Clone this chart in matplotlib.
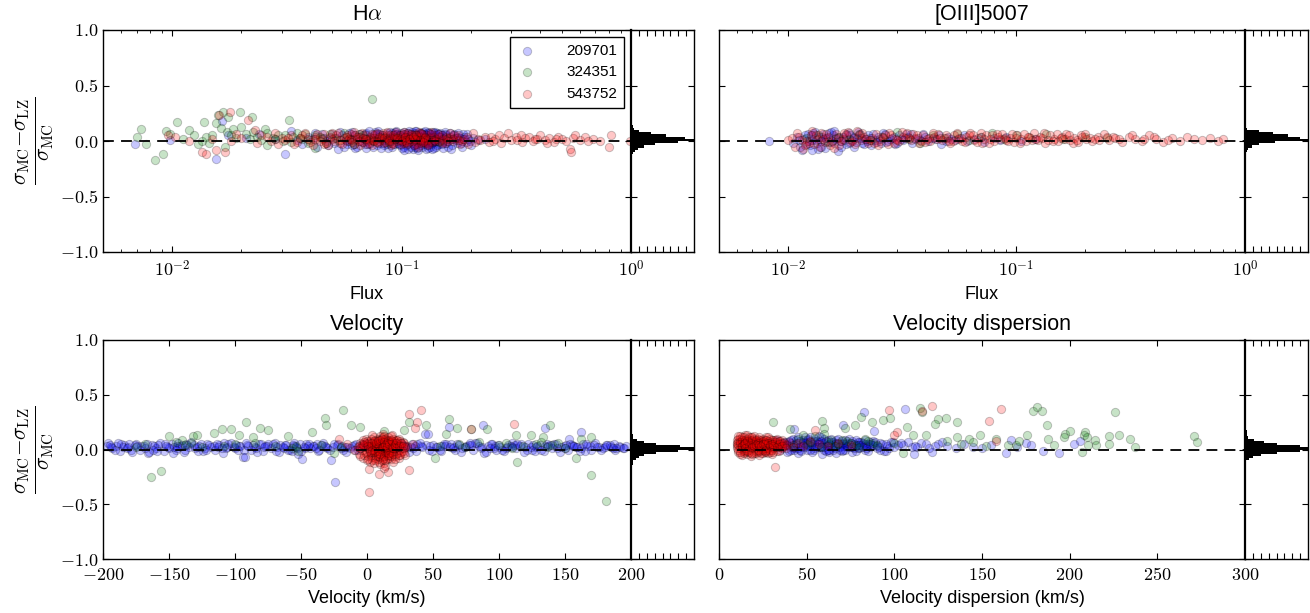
import numpy as np
import matplotlib
matplotlib.use('Agg')
import matplotlib.pyplot as plt
from matplotlib.ticker import FixedLocator, FuncFormatter, LogLocator, NullFormatter

plt.rcParams['font.family'] = ['Liberation Sans', 'DejaVu Sans']
plt.rcParams['mathtext.fontset'] = 'cm'
plt.rcParams['xtick.major.size'] = 4
plt.rcParams['ytick.major.size'] = 4
plt.rcParams['xtick.minor.size'] = 2
plt.rcParams['ytick.minor.size'] = 2
plt.rcParams['axes.linewidth'] = 1.0

# ---------------- data ----------------
series_labels = ['209701', '324351', '543752']

# H-alpha: (flux, relative difference)
ha_209701 = [(0.0069,-0.03),(0.0098,0.01),(0.0155,-0.16),(0.0165,0.18),(0.0175,0.05),(0.021,0.03),(0.024,0.06),(0.028,0.02),
    (0.031,-0.12),(0.033,0.09),(0.035,0.01),(0.037,-0.03),(0.039,0.04),(0.041,0.02),(0.043,-0.05),(0.045,0.06),(0.047,0.00),
    (0.049,0.03),(0.051,-0.02),(0.053,-0.07),(0.055,0.05),(0.057,0.01),(0.059,0.07),(0.061,-0.04),(0.063,0.02),(0.065,0.04),
    (0.067,-0.01),(0.069,0.06),(0.071,0.00),(0.073,0.03),(0.075,-0.05),(0.077,0.08),(0.079,0.02),(0.081,-0.02),(0.083,0.05),
    (0.085,0.01),(0.087,-0.06),(0.089,0.04),(0.091,0.07),(0.093,-0.03),(0.095,0.02),(0.097,0.05),(0.099,-0.01),(0.101,0.03),
    (0.103,0.08),(0.105,-0.04),(0.107,0.01),(0.109,0.06),(0.111,-0.02),(0.113,0.03),(0.115,0.07),(0.117,-0.06),(0.119,0.00),
    (0.121,0.04),(0.123,0.02),(0.125,-0.03),(0.127,0.06),(0.129,0.01),(0.131,0.08),(0.133,-0.05),(0.135,0.03),(0.137,0.05),
    (0.139,-0.01),(0.141,0.02),(0.143,0.07),(0.145,-0.03),(0.148,0.04),(0.151,0.00),(0.154,0.06),(0.157,-0.02),(0.160,0.03),
    (0.164,-0.07),(0.168,0.05),(0.172,0.01),(0.176,0.04),(0.181,-0.02),(0.186,0.02),(0.192,0.06),(0.198,0.00),(0.205,0.03),
    (0.215,0.01),(0.230,0.02),(0.090,0.00),(0.094,0.05),(0.098,-0.04),(0.102,0.02),(0.106,0.07),(0.110,0.03),(0.114,-0.03),
    (0.118,0.05),(0.122,-0.01),(0.126,0.03),(0.130,-0.02),(0.134,0.01),(0.138,0.07),(0.142,-0.05),(0.146,0.02),(0.150,0.05),
    (0.116,0.09),(0.124,0.08),(0.112,-0.07),(0.128,-0.07),(0.108,0.04),(0.120,0.02),(0.132,0.04),(0.136,-0.02),(0.096,0.06),
    (0.100,-0.06),(0.104,0.00),(0.080,0.06),(0.072,-0.03),(0.068,0.03),
    (0.052,0.03),(0.058,-0.03),(0.062,0.05),(0.066,0.00),(0.070,0.07),(0.074,0.01),(0.078,-0.04),(0.082,0.04),(0.086,0.07),
    (0.088,-0.01),(0.092,0.02),(0.096,-0.02),(0.099,0.07),(0.103,-0.05),(0.105,0.04),(0.109,0.00),(0.111,0.08),(0.113,-0.04),
    (0.115,0.02),(0.117,0.05),(0.119,-0.02),(0.121,0.07),(0.123,-0.05),(0.125,0.05),(0.127,0.00),(0.129,-0.04),(0.131,0.03),
    (0.133,0.06),(0.135,-0.01),(0.137,0.08),(0.139,-0.06),(0.141,0.05),(0.144,0.00),(0.147,0.07),(0.150,-0.03),(0.153,0.03),
    (0.156,0.05),(0.160,-0.05),(0.165,0.02),(0.170,0.06),(0.175,-0.02),(0.180,0.03),(0.185,0.06),(0.190,-0.01),(0.060,0.02),
    (0.064,-0.05),(0.076,0.05),(0.084,-0.04),(0.094,0.08),(0.101,0.00),(0.107,-0.07),(0.118,0.01),(0.122,0.06),(0.126,-0.01),
    (0.130,0.07),(0.134,-0.03),(0.138,0.03),(0.142,0.00),(0.046,0.03),(0.050,0.06),
    (0.061,0.08),(0.063,-0.06),(0.066,0.06),(0.069,-0.03),(0.072,0.09),(0.075,0.03),(0.078,0.06),(0.081,-0.06),(0.083,0.01),
    (0.086,-0.03),(0.089,0.08),(0.091,-0.05),(0.093,0.04),(0.095,0.09),(0.097,-0.03),(0.100,0.05),(0.102,-0.08),(0.104,0.06),
    (0.106,-0.02),(0.108,0.09),(0.110,-0.05),(0.112,0.05),(0.114,0.09),(0.116,0.00),(0.118,-0.08),(0.120,0.07),(0.122,-0.04),
    (0.124,0.00),(0.126,0.09),(0.128,0.02),(0.130,-0.06),(0.132,0.07),(0.134,0.04),(0.136,-0.07),(0.138,0.00),(0.140,0.08),
    (0.143,-0.04),(0.146,0.06),(0.149,0.01),(0.152,-0.06),(0.155,0.08),(0.158,0.00),(0.162,0.07),(0.166,-0.04),(0.171,0.03),
    (0.177,0.07),(0.183,-0.05),(0.188,0.04),(0.195,0.02),(0.200,-0.04),(0.042,0.07),(0.048,-0.04),(0.054,0.08),(0.056,-0.05),
    (0.059,0.00),(0.070,-0.06),(0.079,0.09),(0.087,0.03),(0.098,0.01),(0.115,-0.05)]
ha_324351 = [(0.0070,0.04),(0.0073,0.11),(0.0077,-0.03),(0.0084,-0.17),(0.0091,-0.12),(0.0094,0.09),(0.0098,0.06),(0.0105,0.17),
    (0.0112,0.02),(0.0118,0.10),(0.0124,0.05),(0.0130,-0.03),(0.0135,0.00),(0.0138,0.17),(0.0141,0.04),(0.0145,-0.02),(0.0150,0.05),
    (0.0155,0.16),(0.0159,0.23),(0.0163,0.12),(0.0167,0.26),(0.0170,-0.05),(0.0174,0.08),(0.0176,0.22),(0.0180,0.05),(0.0185,0.11),
    (0.0190,0.03),(0.0197,0.26),(0.0200,0.13),(0.0210,0.06),(0.0218,0.02),(0.0224,0.22),(0.0226,0.08),(0.0235,0.04),(0.0245,0.01),
    (0.0253,0.11),(0.0260,0.07),(0.0275,0.03),(0.0290,0.05),(0.0305,0.00),(0.0324,0.19),(0.0335,0.04),(0.0350,0.07),(0.0370,0.02),
    (0.0390,-0.02),(0.0420,0.05),(0.0450,0.03),(0.0490,0.06),(0.0530,0.01),(0.0580,0.04),(0.0620,-0.03),(0.0680,0.05),(0.0720,0.02),
    (0.0740,0.38),(0.0800,0.03),(0.0880,-0.02),(0.0950,0.04),(0.1050,0.01),(0.1150,0.05),(0.1300,0.02),(0.1450,-0.01),(0.1600,0.03),
    (0.0420,-0.06),(0.0560,0.07),(0.0260,-0.04),(0.028,0.02),(0.031,0.05),(0.033,-0.01),(0.036,0.03),(0.038,0.06),(0.040,0.01),
    (0.044,0.04),(0.047,-0.02),(0.051,0.03),(0.060,0.02),(0.065,0.06),(0.075,0.00),(0.085,0.04)]
ha_543752 = [(0.0096,0.05),(0.0103,0.04),(0.0118,0.00),(0.0135,-0.10),(0.0140,-0.12),(0.0150,0.02),(0.0155,-0.08),(0.0160,0.23),
    (0.0170,-0.10),(0.0178,0.26),(0.0180,0.00),(0.0190,0.06),(0.0200,0.03),(0.0215,0.19),(0.0229,0.10),(0.0235,-0.02),(0.0245,0.05),
    (0.0260,0.04),(0.0270,0.00),(0.0280,0.07),(0.0290,-0.03),(0.0300,0.03),(0.031,0.01),(0.033,0.05),(0.034,-0.03),(0.036,0.03),
    (0.038,0.07),(0.040,-0.01),(0.042,0.04),(0.044,0.00),(0.046,0.06),(0.048,-0.04),(0.050,0.02),(0.052,0.05),(0.054,-0.02),
    (0.056,0.03),(0.058,0.00),(0.060,0.06),(0.062,-0.03),(0.064,0.02),(0.066,0.04),(0.068,-0.01),(0.070,0.05),(0.072,0.01),
    (0.074,-0.04),(0.076,0.03),(0.078,0.07),(0.080,0.00),(0.082,0.02),(0.084,-0.02),(0.086,0.05),(0.088,0.01),(0.090,0.03),
    (0.092,-0.03),(0.094,0.06),(0.096,0.00),(0.098,0.02),(0.100,0.04),(0.102,-0.02),(0.104,0.01),(0.106,0.05),(0.108,-0.01),
    (0.110,0.03),(0.112,0.00),(0.114,0.06),(0.116,-0.03),(0.118,0.02),(0.120,0.04),(0.122,0.00),(0.124,0.03),(0.126,-0.02),
    (0.128,0.05),(0.130,0.01),(0.133,0.03),(0.136,-0.01),(0.139,0.04),(0.142,0.02),(0.146,0.00),(0.150,0.05),(0.154,-0.02),
    (0.158,0.02),(0.163,0.04),(0.168,0.00),(0.174,0.03),(0.180,-0.03),(0.187,0.02),(0.195,-0.03),(0.205,0.07),(0.215,0.02),
    (0.220,0.01),(0.230,0.04),(0.240,-0.01),(0.245,0.04),(0.255,0.02),(0.265,0.05),(0.270,-0.02),(0.280,0.03),(0.290,0.07),
    (0.300,0.01),(0.315,0.04),(0.320,0.01),(0.335,-0.01),(0.345,0.03),(0.360,0.04),(0.375,0.00),(0.390,0.02),(0.400,0.05),
    (0.420,0.01),(0.440,0.03),(0.460,-0.01),(0.480,0.04),(0.500,0.02),(0.540,-0.07),(0.550,-0.10),(0.560,0.03),(0.600,0.01),
    (0.630,0.04),(0.680,0.02),(0.730,0.00),(0.800,-0.05),(0.820,0.05),(0.990,0.00),(0.210,-0.01),(0.250,0.00),(0.330,0.05),
    (0.380,0.02),(0.430,-0.02),(0.470,0.02),(0.520,0.00),(0.570,0.05),(0.650,0.00),
    (0.032,0.03),(0.035,-0.01),(0.037,0.05),(0.039,0.02),(0.041,-0.04),(0.043,0.06),(0.045,0.02),(0.047,-0.02),(0.049,0.04),
    (0.051,0.00),(0.053,0.07),(0.055,-0.03),(0.057,0.04),(0.059,0.02),(0.061,-0.01),(0.063,0.05),(0.065,0.00),(0.067,0.07),
    (0.069,0.02),(0.071,-0.03),(0.073,0.04),(0.075,0.01),(0.077,0.06),(0.079,-0.02),(0.081,0.03),(0.083,0.07),(0.085,-0.01),
    (0.087,0.02),(0.089,0.05),(0.091,-0.02),(0.093,0.03),(0.095,0.08),(0.097,0.01),(0.099,-0.03),(0.101,0.06),(0.103,0.03),
    (0.105,-0.01),(0.107,0.07),(0.109,0.02),(0.111,0.05),(0.113,-0.04),(0.115,0.01),(0.117,0.04),(0.119,0.08),(0.121,-0.02),
    (0.123,0.06),(0.125,0.01),(0.127,0.03),(0.131,-0.03),(0.135,0.06),(0.140,0.00),(0.145,0.04),(0.152,0.02),(0.160,0.00),
    (0.170,0.05),(0.178,0.01),
    (0.042,0.02),(0.046,-0.03),(0.050,0.07),(0.054,0.01),(0.058,0.05),(0.062,0.08),(0.066,-0.04),(0.070,0.02),(0.074,0.06),
    (0.078,-0.01),(0.082,0.05),(0.086,0.08),(0.090,-0.04),(0.094,0.02),(0.098,0.05),(0.102,0.08),(0.106,-0.03),(0.110,0.06),
    (0.114,0.02),(0.118,-0.05),(0.122,0.07),(0.126,0.04),(0.130,-0.04),(0.134,0.08),(0.138,0.01),(0.144,0.06),(0.150,-0.02),
    (0.156,0.04),(0.162,0.07),(0.168,0.02),(0.176,0.05),(0.184,0.00),(0.192,0.04),(0.060,0.01),(0.064,0.04),(0.068,0.03),
    (0.072,-0.02),(0.076,0.00),(0.080,0.04),(0.084,0.03),(0.088,0.00),(0.092,0.05),(0.096,0.03),(0.100,0.00),(0.104,0.04),
    (0.108,0.02),(0.112,0.04),(0.116,0.05),(0.120,0.01),(0.124,-0.01)]

# [OIII]5007: (flux, relative difference)
o3_209701 = [(0.0083,0.00),(0.0105,-0.02),(0.0110,0.04),(0.0115,-0.08),(0.0118,0.02),(0.0122,0.06),(0.0125,-0.04),(0.0128,0.01),
    (0.0131,0.08),(0.0134,-0.02),(0.0137,0.04),(0.0140,0.00),(0.0143,0.06),(0.0146,-0.06),(0.0150,0.03),(0.0154,-0.01),(0.0158,0.05),
    (0.0162,0.02),(0.0166,-0.09),(0.0170,0.00),(0.0175,0.04),(0.0180,-0.03),(0.0185,0.07),(0.0190,0.01),(0.0195,-0.05),(0.0200,0.03),
    (0.0206,0.06),(0.0212,-0.02),(0.0218,0.02),(0.0225,0.05),(0.0232,-0.04),(0.0240,0.01),(0.0248,0.04),(0.0256,-0.02),(0.0265,0.06),
    (0.0275,0.00),(0.0285,0.03),(0.0295,-0.03),(0.0305,0.05),(0.0320,0.01),(0.0335,0.04),(0.0350,-0.02),(0.0370,0.03),(0.0390,0.06),
    (0.0410,0.00),(0.0440,0.02),(0.0470,-0.03),(0.0500,0.04),(0.0540,0.01),(0.0590,0.05),(0.0650,0.02),(0.0720,-0.01),(0.0800,0.03),
    (0.0900,0.04),(0.1050,0.00),(0.1200,0.02),
    (0.0112,0.01),(0.0120,-0.03),(0.0127,0.05),(0.0133,0.01),(0.0139,-0.05),(0.0145,0.03),(0.0152,0.07),(0.0160,-0.02),
    (0.0168,0.04),(0.0177,0.01),(0.0188,0.05),(0.0198,-0.01),(0.0210,0.03),(0.0222,0.00),(0.0236,0.06),(0.0252,0.02),
    (0.0270,-0.01),(0.0290,0.04),(0.0315,0.02),(0.0345,0.06),(0.0380,0.01),(0.0430,0.03),(0.0490,0.00),(0.0560,0.03),
    (0.0113,-0.05),(0.0119,0.05),(0.0124,0.00),(0.0129,0.07),(0.0136,-0.07),(0.0141,0.04),(0.0148,0.00),(0.0155,0.08),
    (0.0163,0.03),(0.0171,-0.05),(0.0179,0.06),(0.0186,-0.02),(0.0194,0.04),(0.0203,0.08),(0.0215,-0.03),(0.0228,0.03),
    (0.0244,-0.01),(0.0260,0.07),(0.0280,0.02),(0.0300,-0.02),(0.0330,0.06),(0.0360,0.02),(0.0400,0.04),(0.0460,0.05),
    (0.0520,0.02),(0.0610,0.00),(0.0700,0.04),(0.0850,0.01),(0.0128,-0.08),(0.0160,0.09)]
o3_324351 = [(0.0120,0.03),(0.0135,0.05),(0.0150,-0.01),(0.0165,0.04),(0.0185,0.02),(0.0205,0.06),(0.0230,0.01),(0.0260,0.04),
    (0.0300,0.08),(0.0340,0.02),(0.0380,-0.02),(0.0430,0.05),(0.0480,0.03),(0.0550,0.06),(0.0620,0.01),(0.0700,0.04),(0.0780,0.07),
    (0.0880,0.02),(0.1000,0.05),(0.1150,0.03),(0.1350,0.06),(0.1600,0.02),(0.2000,0.04),(0.2500,0.03)]
o3_543752 = [(0.0100,0.01),(0.0108,-0.05),(0.0112,0.04),(0.0117,-0.07),(0.0121,0.00),(0.0126,0.05),(0.0130,-0.03),(0.0135,0.02),
    (0.0140,0.07),(0.0145,-0.01),(0.0150,0.04),(0.0156,0.00),(0.0162,0.06),(0.0168,-0.04),(0.0174,0.02),(0.0180,0.05),(0.0187,-0.01),
    (0.0194,0.03),(0.0200,0.09),(0.0208,0.01),(0.0216,0.04),(0.0225,-0.02),(0.0234,0.03),(0.0243,0.06),(0.0252,0.00),(0.0262,0.03),
    (0.0273,-0.03),(0.0284,0.05),(0.0296,0.02),(0.0308,0.00),(0.0320,0.04),(0.0333,0.07),(0.0346,0.01),(0.0360,0.03),(0.0375,-0.02),
    (0.0390,0.05),(0.0405,0.02),(0.0420,0.00),(0.0437,0.04),(0.0455,0.06),(0.0473,0.01),(0.0492,0.03),(0.0512,-0.02),(0.0533,0.05),
    (0.0555,0.02),(0.0578,0.00),(0.0600,0.04),(0.0625,0.07),(0.0650,0.01),(0.0677,0.03),(0.0705,-0.02),(0.0734,0.05),(0.0764,0.02),
    (0.0795,0.00),(0.0828,0.04),(0.0862,0.06),(0.0897,0.01),(0.0934,0.03),(0.0972,-0.01),(0.101,0.05),(0.105,0.02),(0.110,0.00),
    (0.114,0.04),(0.119,0.07),(0.124,0.01),(0.129,0.03),(0.134,-0.02),(0.140,0.05),(0.146,0.02),(0.152,0.00),(0.158,0.04),
    (0.165,0.06),(0.172,0.01),(0.179,0.03),(0.186,-0.01),(0.194,0.04),(0.202,0.02),(0.215,0.00),(0.228,0.04),(0.242,0.06),
    (0.255,0.01),(0.270,0.03),(0.290,-0.01),(0.310,0.04),(0.330,0.02),(0.355,0.00),(0.380,0.05),(0.410,0.02),(0.440,-0.01),
    (0.480,0.03),(0.520,0.00),(0.560,0.04),(0.600,0.02),(0.650,0.01),(0.700,0.03),(0.760,0.00),(0.800,0.02),
    (0.0104,0.03),(0.0115,0.01),(0.0124,-0.02),(0.0133,0.05),(0.0142,0.02),(0.0153,-0.04),(0.0165,0.03),(0.0177,0.07),
    (0.0190,0.00),(0.0205,0.05),(0.0220,0.02),(0.0238,-0.02),(0.0257,0.04),(0.0278,0.07),(0.0300,0.01),(0.0325,0.03),
    (0.0352,0.06),(0.0382,0.00),(0.0415,0.03),(0.0450,0.02),(0.0490,0.05),(0.0530,0.00),(0.0575,0.03),(0.0620,0.05),
    (0.0670,-0.01),(0.0720,0.02),(0.0780,0.05),(0.0850,0.02),(0.0920,0.00),(0.1000,0.03),(0.1080,0.06),(0.1170,0.01),
    (0.1270,0.04),(0.1380,0.01),(0.1500,0.06),(0.1630,0.02),(0.1770,-0.02),(0.1920,0.05),(0.2100,0.03),(0.2300,0.01),
    (0.2500,0.04),(0.2800,0.02),(0.3200,0.05),(0.3600,0.02),(0.4000,0.04),(0.4600,0.01),
    (0.0110,0.07),(0.0119,-0.04),(0.0128,0.09),(0.0138,-0.05),(0.0147,0.06),(0.0159,-0.06),(0.0171,0.00),(0.0183,0.08),
    (0.0197,-0.03),(0.0212,0.07),(0.0229,0.01),(0.0247,-0.04),(0.0267,0.05),(0.0290,-0.02),(0.0315,0.08),(0.0340,0.03),
    (0.0368,0.05),(0.0398,-0.01),(0.0430,0.07),(0.0465,0.03),(0.0505,0.00),(0.0548,0.07),(0.0595,-0.01),(0.0645,0.05),
    (0.0700,0.07),(0.0760,-0.02),(0.0820,0.06),(0.0890,0.03),(0.0960,0.06),(0.1040,-0.02),(0.1120,0.04),(0.1220,0.02),
    (0.1320,0.07),(0.1440,0.00),(0.1560,0.03),(0.1700,0.05),(0.1850,0.01),(0.2000,0.06),(0.2200,0.02),(0.2650,0.04)]

# Velocity: (km/s, relative difference)
vel_209701 = [(-196,0.06),(-193,0.01),(-190,0.03),(-187,-0.01),(-184,0.04),(-181,0.02),(-178,-0.02),(-175,0.05),(-172,0.00),
    (-169,0.03),(-166,-0.03),(-163,0.04),(-160,0.01),(-157,0.06),(-154,-0.01),(-151,0.02),(-148,0.05),(-145,0.00),(-142,0.03),
    (-139,-0.02),(-136,0.04),(-133,0.07),(-130,0.01),(-127,0.03),(-124,-0.01),(-121,0.05),(-118,0.02),(-115,0.00),(-112,0.04),
    (-109,-0.03),(-106,0.02),(-103,0.06),(-100,0.01),(-97,0.03),(-94,-0.07),(-91,0.04),(-88,0.00),(-85,0.02),(-82,0.05),
    (-79,-0.01),(-76,0.03),(-73,0.01),(-70,0.06),(-67,-0.02),(-64,0.02),(-61,0.04),(-58,0.00),(-55,0.03),(-52,-0.04),
    (-49,-0.09),(-46,0.05),(-43,0.01),(-40,0.03),(-37,-0.01),(-34,0.04),(-31,0.02),(-28,0.00),(-24,-0.30),(-22,0.05),
    (-19,0.03),(-16,-0.02),(-13,0.01),(-10,0.04),(-7,0.00),(-4,0.02),(-1,0.06),(2,-0.01),(5,0.03),(8,0.05),(11,0.01),
    (14,-0.03),(17,0.04),(20,0.02),(23,0.00),(26,0.06),(29,0.03),(32,-0.02),(35,0.01),(38,0.05),(41,0.03),(44,0.14),
    (47,0.00),(50,0.04),(53,0.02),(56,-0.01),(62,0.21),(59,0.03),(65,0.01),(68,0.05),(71,-0.02),(74,0.02),(77,0.04),
    (80,0.00),(83,0.06),(88,0.22),(86,0.01),(89,-0.03),(92,0.03),(95,0.05),(98,0.00),(101,0.02),(104,-0.01),(107,0.04),
    (110,0.06),(113,0.01),(116,0.03),(119,-0.02),(122,0.05),(125,0.00),(128,0.02),(131,0.04),(134,-0.01),(135,0.20),
    (137,0.03),(140,0.01),(143,0.05),(153,0.10),(146,-0.02),(149,0.03),(152,0.00),(162,0.16),(155,0.04),(158,0.02),
    (161,-0.01),(164,0.05),(167,0.03),(170,0.00),(173,0.06),(176,0.02),(179,0.01),(182,0.04),(185,0.02),(188,0.00),
    (191,0.03),(194,0.01),
    (-194,0.02),(-186,0.05),(-179,0.00),(-171,0.03),(-165,-0.02),(-158,0.04),(-150,0.01),(-143,0.06),(-135,0.02),(-128,-0.01),
    (-120,0.04),(-113,0.02),(-105,0.05),(-98,0.00),(-90,0.03),(-83,-0.02),(-75,0.05),(-68,0.02),(-60,0.00),(-56,0.04),
    (-53,0.01),(-50,-0.01),(-45,0.03),(-38,0.05),(-30,0.01),(-23,0.04),(-15,0.02),(-8,0.05),(0,0.03),(7,0.01),(15,0.04),
    (22,0.06),(30,0.02),(37,-0.01),(45,0.04),(52,0.02),(60,0.05),(67,0.00),(75,0.03),(82,0.06),(90,-0.02),(97,0.03),
    (105,0.01),(112,0.04),(120,0.02),(127,-0.01),(135,0.03),(142,0.05),(150,0.01),(157,0.03),(165,-0.01),(172,0.04),
    (180,0.02),(187,0.05),(195,0.01),(-27.5,-0.10),(-92.5,-0.07),(-147,-0.03),(46,0.14),
    (-197,0.03),(-191,0.00),(-185,0.02),(-176,0.04),(-168,0.01),(-161,0.03),(-153,0.05),(-146,0.02),(-138,0.00),(-131,0.04),
    (-123,0.01),(-116,0.03),(-108,0.06),(-101,0.02),(-93,0.00),(-86,0.04),(-78,0.02),(-71,0.05),(-63,0.01),(-57,-0.01),
    (-54,0.02),(-51,0.05),(-47,0.01),(-41,0.03),(-33,0.06),(-26,0.02),(-18,0.00),(-11,0.03),(-3,0.05),(4,0.02),(12,0.00),
    (19,0.04),(27,0.01),(34,0.05),(42,0.02),(49,-0.01),(57,0.03),(64,0.05),(72,0.01),(79,0.04),(87,0.02),(94,0.05),
    (102,0.00),(109,0.03),(117,0.05),(124,0.02),(132,0.00),(139,0.04),(147,0.02),(154,0.05),(162,0.01),(169,0.03),
    (177,0.00),(184,0.04),(192,0.02),(-180,0.05),(-162,0.00),(-144,0.03),(-126,0.05),(-96,0.03),(-66,0.04),(-36,0.00),
    (6,0.04),(36,0.03),(66,0.02),(96,0.01),(126,0.04),(156,0.03),(186,0.01),
    (-195,0.04),(-189,0.06),(-182,0.01),(-174,0.03),(-167,0.05),(-159,-0.01),(-152,0.03),(-144,0.01),(-137,0.05),(-129,0.02),
    (-122,0.00),(-114,0.05),(-107,0.01),(-99,0.04),(-92,0.06),(-84,0.01),(-77,0.03),(-69,-0.01),(-62,0.04),(-55,0.06),
    (-48,0.02),(-44,0.05),(-39,0.01),(-32,0.03),(-25,0.05),(-17,0.02),(-9,0.00),(-2,0.03),(13,0.05),(21,0.01),(28,0.04),
    (33,0.02),(40,0.06),(48,0.03),(55,0.00),(58,0.05),(63,0.02),(70,0.04),(78,0.06),(85,0.03),(93,0.01),(99,0.04),
    (106,0.02),(114,0.05),(121,0.00),(129,0.03),(136,0.05),(144,0.01),(151,0.04),(159,0.02),(166,0.05),(174,0.02),
    (181,0.04),(189,0.01),(196,0.03),(-140,0.04),(-110,0.01),(-80,0.05),(-20,0.01),(110,0.02)]
vel_324351 = [(-163.7,-0.25),(-156,-0.20),(-150,0.12),(-140,0.09),(-132,0.12),(-129,0.13),(-116,0.15),(-110,0.19),(-103,0.19),
    (-97,0.13),(-91.5,0.25),(-86,0.11),(-81,0.20),(-75,0.18),(-60,0.12),(-42,0.16),(-31.5,0.29),(-31,0.22),(-18,0.36),
    (-12,0.22),(-5,0.21),(12.5,0.17),(28,0.18),(32,0.25),(45,0.22),(62,0.28),(60,0.14),(68,0.20),(79,0.19),(91,0.19),
    (113,0.13),(114,-0.11),(124,0.13),(133,0.11),(139,0.22),(162,0.10),(170,0.11),(169.5,-0.23),(181,-0.47),(51.5,-0.08),
    (158,-0.08),(-145,0.07),(-138,0.04),(-133,0.06),(-125,0.02),(-108,0.03),(-100,0.05),(-57,0.01),(-54,0.03),(-52,-0.01),
    (-35,0.04),(-25,-0.03),(-20,0.02),(55,0.03),(70,0.05),(74,0.02),(100,0.04),(105,0.06),(110,0.01),(118,0.03),(128,0.05),
    (132,0.07),(136,0.02),(140,0.04),(145,0.06),(150,0.01),(-70,0.03),(-85,0.06),(85,0.07),(-168,0.05),(-175,0.02)]
vel_543752 = [(-7,0.02),(-6,-0.04),(-5,0.06),(-4,0.00),(-3,-0.08),(-2,0.04),(-1,0.10),(0,-0.02),(0,0.05),(1,-0.06),(1,0.01),
    (2,0.08),(2,-0.11),(3,0.03),(3,-0.03),(4,0.06),(4,-0.07),(5,0.00),(5,0.11),(6,-0.04),(6,0.04),(7,0.08),(7,-0.01),(8,-0.09),
    (8,0.02),(9,0.06),(9,-0.05),(10,0.00),(10,0.12),(11,-0.03),(11,0.04),(12,0.08),(12,-0.07),(13,0.01),(13,-0.12),(14,0.05),
    (14,-0.02),(15,0.09),(15,0.00),(16,-0.06),(16,0.03),(17,0.07),(17,-0.03),(18,0.01),(18,-0.09),(19,0.05),(19,0.13),(20,-0.01),
    (20,0.03),(21,-0.06),(21,0.08),(22,0.02),(22,-0.04),(23,0.06),(24,0.00),(24,-0.08),(25,0.04),(26,-0.02),(27,0.07),(28,0.01),
    (29,-0.05),(30,0.03),(-3,0.09),(0,-0.10),(4,0.13),(8,0.10),(12,0.14),(16,0.11),(20,-0.11),(24,0.10),(-5,-0.06),(10,-0.13),
    (14,-0.15),(6,0.01),(8,0.05),(10,0.03),(12,-0.01),(14,0.02),(16,0.06),(18,0.04),(2,0.00),(4,0.03),(6,-0.08),(11,0.07),
    (13,0.09),(15,-0.09),(17,0.00),(19,-0.03),(9,0.01),(7,0.04),
    (1.7,-0.39),(40.7,0.36),(32,0.32),(38,0.25),(36,0.20),(32,-0.19),(1.7,-0.18),(9,-0.22),(16,-0.21),(12.5,-0.17),
    (111,0.23),(79,0.19),(-21,0.10),(-15,0.05),(35,0.05),(-10,0.00),
    (-4,0.05),(-2,-0.05),(-1,0.02),(1,0.06),(2,0.03),(3,-0.05),(3,0.10),(5,-0.02),(5,0.05),(6,0.09),(7,-0.06),(7,0.02),
    (8,-0.03),(9,0.09),(9,0.03),(10,-0.07),(10,0.06),(11,0.00),(11,-0.10),(12,0.04),(12,0.11),(13,-0.04),(13,0.05),(14,0.00),
    (14,0.10),(15,0.04),(15,-0.05),(16,0.00),(16,0.09),(17,-0.08),(17,0.03),(18,0.07),(18,-0.02),(19,0.00),(20,0.06),
    (21,0.01),(22,0.09),(23,-0.03),(23,0.02),(25,0.08),(25,-0.05),(26,0.03),(27,-0.01),(28,0.06),(29,0.02),(6,-0.10),
    (9,-0.11),(13,0.12),(20,0.10),(-6,0.03),
    (-5,0.01),(-3,0.04),(-1,-0.03),(0,0.08),(1,0.03),(2,-0.02),(3,0.06),(4,0.00),(4,-0.10),(5,0.08),(6,-0.01),(7,0.06),
    (8,-0.06),(8,0.08),(9,-0.01),(10,0.09),(10,-0.04),(11,0.02),(11,0.10),(12,-0.09),(12,0.02),(13,0.07),(13,-0.06),(14,0.04),
    (14,-0.10),(15,0.06),(15,0.02),(16,-0.03),(16,0.08),(17,0.05),(17,-0.05),(18,0.09),(18,-0.06),(19,0.02),(19,0.08),
    (20,-0.04),(20,0.01),(21,0.04),(21,-0.09),(22,0.06),(23,0.09),(24,0.03),(24,-0.05),(26,0.06),(27,0.03),(28,-0.03),
    (-2,0.07),(1,-0.09),(5,-0.12),(18,0.12)]

# Velocity dispersion: (km/s, relative difference)
disp_209701 = [(18,0.04),(22,0.07),(26,0.02),(30,0.05),(33,0.09),(35,0.00),(37,0.04),(38,0.07),(39,-0.02),(40,0.03),(41,0.06),
    (42,0.10),(43,0.01),(44,0.05),(45,-0.03),(46,0.08),(47,0.02),(48,0.04),(49,0.11),(50,0.00),(51,0.06),(52,0.03),(53,-0.02),
    (54,0.08),(55,0.01),(56,0.05),(57,0.12),(58,0.02),(59,-0.04),(60,0.06),(61,0.03),(62,0.09),(63,0.00),(64,0.04),(65,0.07),
    (66,0.01),(67,-0.03),(68,0.05),(69,0.02),(70,0.08),(71,0.03),(72,0.00),(73,0.06),(74,0.10),(75,0.02),(76,-0.02),(77,0.05),
    (78,0.03),(79,0.07),(80,0.01),(81,0.04),(82,0.06),(83,0.00),(84,0.03),(85,0.05),(86,0.02),(88,0.04),(90,0.01),(92,0.06),
    (94,-0.01),(96,0.03),(98,0.07),(42.8,0.19),(70.5,0.22),(82.7,0.34),(106,0.37),(88.2,0.17),(127,0.07),(163.6,-0.03),
    (194,-0.03),(185,-0.01),(178,0.04),(206,0.08),(202.5,0.05),(166.5,0.09),(145,0.02),(135,0.01),(125,0.05),(121.5,-0.02),
    (111.5,-0.04),(105,0.04),(99,0.07),(95,-0.01),(110,0.02),(115,0.06),(130,0.03),(140,0.05),(150,0.01),(155,0.04),(170,0.02),
    (175,0.06),(45,0.01),(50,0.07),(55,0.04),(60,0.00),(65,0.02),(35,0.06),(40,-0.01),(30,0.02),(52,0.11),(58,0.08),(63,-0.02),
    (48,0.09),(72,0.05),(78,-0.01),(86,0.07),
    (36,0.02),(38,0.05),(40,0.08),(41,0.00),(43,0.04),(44,0.09),(46,0.03),(47,-0.01),(49,0.06),(50,0.03),(51,0.10),(53,0.05),
    (54,0.00),(56,0.08),(57,0.02),(59,0.06),(60,0.10),(61,-0.01),(62,0.04),(64,0.07),(65,0.00),(66,0.05),(67,0.09),(69,0.03),
    (70,-0.01),(71,0.06),(73,0.02),(74,0.05),(76,0.08),(77,0.01),(79,0.04),(80,0.07),(82,0.02),(83,0.05),(85,-0.01),(87,0.04),
    (89,0.07),(91,0.02),(93,0.05),(97,0.01),(102,0.04),(108,0.07),(113,0.02),(118,0.05),(123,0.03),
    (34,0.03),(37,0.07),(39,0.04),(41,0.09),(42,0.02),(44,0.06),(45,0.11),(46,0.00),(48,0.07),(49,0.02),(50,0.09),(52,0.00),
    (53,0.07),(55,0.10),(56,0.02),(57,0.07),(58,0.11),(59,0.03),(61,0.08),(62,0.00),(63,0.05),(64,0.10),(66,0.03),(67,0.06),
    (68,0.10),(69,0.00),(70,0.05),(72,0.09),(73,0.03),(75,0.06),(76,0.02),(78,0.09),(79,0.01),(81,0.07),(83,0.09),(84,0.01),
    (86,0.05),(88,0.08),(90,0.03),(92,0.00),(95,0.05),(100,0.02),(104,0.06),(112,0.03),(120,0.01),(43,0.00),(51,0.04),
    (60,0.02),(71,0.00),(80,0.04)]
disp_324351 = [(30.6,0.25),(40.6,0.19),(58.8,0.26),(60,0.20),(71.6,0.20),(77.6,0.22),(81.2,0.30),(87.1,0.25),(93.3,0.27),
    (97.8,0.29),(114.4,0.38),(115.5,0.34),(124.8,0.28),(129.7,0.29),(123.3,0.23),(135.9,0.25),(107,0.21),(118.2,0.13),(110.4,0.13),
    (135.5,0.11),(142.6,0.10),(149,0.13),(158,0.10),(164.7,0.04),(169.2,0.04),(171,0.08),(175.4,0.13),(179,0.35),(181.4,0.39),
    (184,0.35),(187,0.22),(187.6,0.10),(191,0.04),(197.5,0.14),(197,0.11),(200,0.17),(208,0.13),(209,0.16),(209.8,0.11),
    (210.6,0.04),(214.6,0.09),(215,0.04),(222.4,0.12),(222.4,0.05),(228,0.13),(225.7,0.34),(234.6,0.10),(237.5,0.02),(271,0.12),
    (272.7,0.07),(206.9,-0.02),(104.9,-0.03),(45,0.10),(50,0.05),(55,0.12),(62,0.07),(66,0.03),(70,0.09),(75,0.06),(80,0.02),
    (85,0.08),(90,0.04),(100,0.06),(130,0.08),(138,0.05),(145,0.07),(152,0.03),(60,0.14),(48,0.13),
    (42,0.04),(52,0.07),(58,0.02),(64,0.09),(68,0.05),(73,0.08),(78,0.04),(83,0.10),(88,0.06)]
disp_543752 = [(10,0.03),(11,0.07),(11,-0.02),(12,0.10),(12,0.01),(13,-0.05),(13,0.05),(14,0.08),(14,-0.01),(15,0.03),(15,0.13),
    (16,-0.04),(16,0.06),(17,0.00),(17,0.09),(18,-0.06),(18,0.04),(19,0.07),(19,0.01),(20,-0.03),(20,0.10),(21,0.05),(21,-0.01),
    (22,0.08),(22,0.02),(23,-0.05),(23,0.06),(24,0.00),(24,0.09),(25,0.03),(25,-0.03),(26,0.07),(26,0.01),(27,0.11),(27,-0.02),
    (28,0.04),(28,0.08),(29,0.00),(29,0.06),(30,-0.04),(30,0.03),(31,0.09),(31,0.01),(32,0.05),(32,-0.16),(33,-0.01),(33,0.07),
    (34,0.03),(35,0.05),(36,0.01),(14,0.03),(16,0.02),(18,0.08),(20,0.05),(22,-0.02),(24,0.05),(26,0.04),(28,0.01),(13,0.07),
    (15,-0.02),(17,0.05),(19,0.11),(21,0.02),(23,0.09),(25,0.06),(27,0.04),(29,0.10),(11,0.04),(12,-0.04),(10,0.06),(38,0.04),
    (40,0.07),(42,0.02),(45,0.06),(48,0.03),(52,0.08),(55,0.18),(57,0.05),(62,0.03),(68,0.06),(75,0.04),(96.7,0.36),(116,0.35),
    (121.5,0.40),(154,0.26),(160.7,0.37),(101.5,0.16),(100,0.13),(158,0.08),(15.7,0.13),
    (10,0.01),(11,0.10),(12,0.05),(13,0.02),(13,0.11),(14,-0.03),(14,0.06),(15,0.09),(15,0.00),(16,0.04),(16,0.10),(17,-0.02),
    (17,0.07),(18,0.02),(18,0.11),(19,-0.04),(19,0.04),(20,0.08),(20,0.01),(21,0.07),(21,-0.03),(22,0.05),(22,0.10),(23,0.03),
    (23,-0.01),(24,0.07),(24,0.02),(25,0.10),(25,0.00),(26,-0.02),(26,0.09),(27,0.06),(27,0.01),(28,-0.03),(28,0.11),(29,0.03),
    (30,0.07),(30,0.00),(31,0.05),(32,0.09),(32,0.02),(33,0.04),(34,0.08),(34,-0.01),(35,0.02),(36,0.06),(37,0.03),(12,0.12),
    (10,0.09),(36,0.09),
    (10,0.05),(11,0.00),(11,0.12),(12,0.07),(12,-0.02),(13,0.09),(13,0.03),(14,0.11),(14,0.05),(15,0.06),(15,0.01),(16,0.08),
    (16,-0.01),(17,0.11),(17,0.03),(18,0.06),(18,-0.03),(19,0.09),(19,0.02),(20,0.12),(20,0.03),(21,0.09),(21,0.04),(22,0.00),
    (22,0.06),(23,0.11),(23,0.04),(24,-0.03),(24,0.03),(25,0.08),(25,0.05),(26,-0.01),(26,0.05),(27,0.09),(27,0.00),(28,0.06),
    (29,0.04),(29,-0.02),(30,0.09),(30,0.05),(31,0.03),(31,-0.02),(32,0.07),(33,0.02),(33,0.10),(34,0.05),(35,0.08),(36,0.03),
    (37,0.06),(38,0.01)]

# Marginal histograms (counts per bin of the relative difference)
hist_edges = [-0.30,-0.28,-0.26,-0.24,-0.22,-0.20,-0.18,-0.16,-0.14,-0.12,-0.10,-0.08,-0.06,-0.04,-0.02,0.00,
              0.02,0.04,0.06,0.08,0.10,0.12,0.14,0.16,0.18,0.20,0.22,0.24,0.26,0.28,0.30,0.32,0.34,0.36,0.38,0.40,
              0.42,0.44,0.46,0.48,0.50]
hist_ha   = [0,0,0,0.2,0.3,0.5,0.7,1.0,1.5,2.5,5,9,16,30,60,84,68,45,25,10,3.5,2.5,1.8,1.3,1.0,0.7,0.5,0.4,0.2,0,
             0,0,0,0,0,0,0,0,0,0]
hist_o3   = [0,0,0,0,0,0,0,0,0.5,1,2,4,9,18,38,84,70,54,36,18,3,1,0.5,0,0,0,0,0,0,0,
             0,0,0,0,0,0,0,0,0,0]
hist_vel  = [0,0,0,0,0.3,0.5,0.8,1.2,2,3,6,10,17,32,60,84,62,32,17,7,3,2.5,1.6,1.2,0.9,0.7,0.5,0.4,0.3,0,
             0,0,0,0,0,0,0,0,0,0]
hist_disp = [0,0,0,0,0,0,0,0,0.5,1.5,5,10,20,40,70,84,70,40,24,11,4,3,2.5,2,1.8,1.5,1.3,1.2,1,1,
             0.9,0.9,0.8,0.8,0.7,0.7,0.6,0.6,0.5,0]

titles = ['H$\\alpha$', '[OIII]5007', 'Velocity', 'Velocity dispersion']
xlabels = ['Flux', 'Flux', 'Velocity (km/s)', 'Velocity dispersion (km/s)']
y_ticks = [-1.0, -0.5, 0.0, 0.5, 1.0]

# ---------------- figure ----------------
W, H = 1310, 613
fig = plt.figure(figsize=(W / 100, H / 100), dpi=100)
fig.patch.set_facecolor('white')

def rect(x0, y0, x1, y1):
    return [x0 / W, 1 - y1 / H, (x1 - x0) / W, (y1 - y0) / H]

colors = ['b', 'g', 'r']
ylab = r'$\frac{\sigma_{\rm MC}{-}\sigma_{\rm LZ}}{\sigma_{\rm MC}}$'
yfmt = FuncFormatter(lambda v, p: '$%.1f$' % v)
logfmt = FuncFormatter(lambda v, p: '$10^{%d}$' % int(round(np.log10(v))))
intfmt = FuncFormatter(lambda v, p: '$%d$' % int(round(v)))

panels = [
    dict(data=[ha_209701, ha_324351, ha_543752], hist=hist_ha, log=True, xlim=(0.005, 1.0),
         main=(103, 30, 631, 252), hb=(631, 30, 694, 252), left=True, legend=True),
    dict(data=[o3_209701, o3_324351, o3_543752], hist=hist_o3, log=True, xlim=(0.005, 1.0),
         main=(719, 30, 1245, 252), hb=(1245, 30, 1308, 252), left=False, legend=False),
    dict(data=[vel_209701, vel_324351, vel_543752], hist=hist_vel, log=False, xlim=(-200, 200),
         xt=[-200, -150, -100, -50, 0, 50, 100, 150, 200],
         main=(103, 340, 631, 559), hb=(631, 340, 694, 559), left=True, legend=False),
    dict(data=[disp_209701, disp_324351, disp_543752], hist=hist_disp, log=False, xlim=(0, 300),
         xt=[0, 50, 100, 150, 200, 250, 300],
         main=(719, 340, 1245, 559), hb=(1245, 340, 1308, 559), left=False, legend=False),
]

for i, p in enumerate(panels):
    ax = fig.add_axes(rect(*p['main']))
    axh = fig.add_axes(rect(*p['hb']))
    for ser, c, lab in zip(p['data'], colors, series_labels):
        xs = [d[0] for d in ser]
        ys = [d[1] for d in ser]
        ax.scatter(xs, ys, s=36, c=c, alpha=0.22, edgecolors='k', linewidths=0.7, label=lab, zorder=2)
    ax.axhline(0, color='k', ls='--', lw=1.3, dashes=(6, 4), zorder=3)
    if p['log']:
        ax.set_xscale('log')
        ax.xaxis.set_major_locator(FixedLocator([0.01, 0.1, 1.0]))
        ax.xaxis.set_major_formatter(logfmt)
        ax.xaxis.set_minor_locator(LogLocator(base=10, subs=np.arange(2, 10)))
        ax.xaxis.set_minor_formatter(NullFormatter())
    else:
        ax.xaxis.set_major_locator(FixedLocator(p['xt']))
        ax.xaxis.set_major_formatter(intfmt)
    ax.set_xlim(*p['xlim'])
    ax.set_ylim(-1, 1)
    ax.yaxis.set_major_locator(FixedLocator(y_ticks))
    ax.yaxis.set_major_formatter(yfmt)
    ax.tick_params(axis='both', which='both', direction='in', top=True, right=True, labelsize=13)
    ax.tick_params(axis='x', pad=6)
    if p['left']:
        ax.set_ylabel(ylab, fontsize=22, labelpad=3)
    else:
        ax.tick_params(labelleft=False)
    ax.set_xlabel(xlabels[i], fontsize=13, labelpad=4)
    ax.set_title(titles[i], fontsize=15.5, pad=7)
    if p['legend']:
        leg = ax.legend(loc='upper right', scatterpoints=1, fontsize=11, fancybox=False,
                        framealpha=1, edgecolor='k', borderaxespad=0.45, handletextpad=2.0,
                        handlelength=1.2, labelspacing=0.5, borderpad=0.45)
        leg.get_frame().set_linewidth(1.0)

    axh.stairs(p['hist'], hist_edges, orientation='horizontal', fill=True, color='k', baseline=0)
    axh.set_ylim(-1, 1)
    axh.set_xlim(0, 80)
    axh.yaxis.set_major_locator(FixedLocator(y_ticks))
    axh.xaxis.set_major_locator(FixedLocator([10, 20, 30, 40, 50, 60, 70]))
    axh.tick_params(axis='both', which='both', direction='in', top=True, right=True,
                    labelleft=False, labelbottom=False)
    axh.spines['left'].set_linewidth(1.6)

fig.savefig('out.png', dpi=100, facecolor='white')
